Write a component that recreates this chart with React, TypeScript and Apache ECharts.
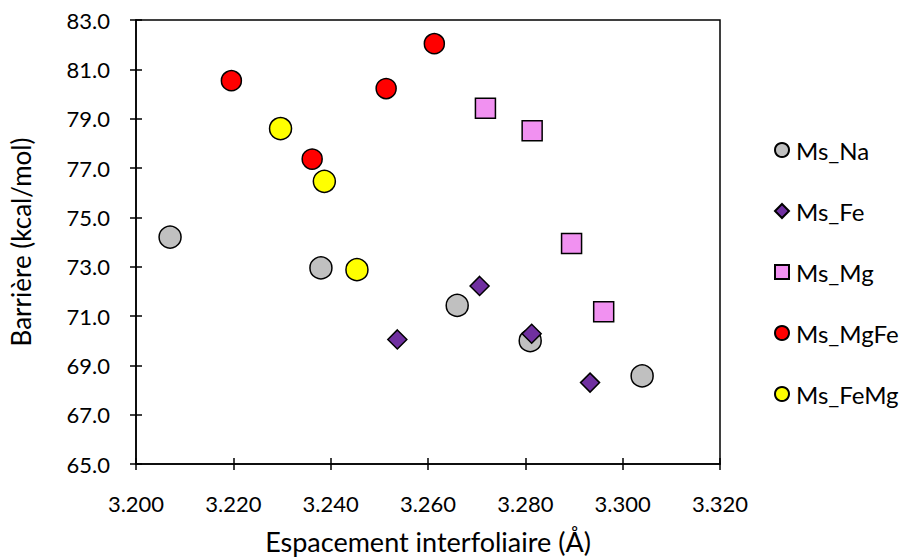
import React, { useEffect, useRef } from "react";
import * as echarts from "echarts";

const seriesNames = ["Ms_Na", "Ms_Fe", "Ms_Mg", "Ms_MgFe", "Ms_FeMg"];
const naX = [3.207, 3.238, 3.266, 3.281, 3.304];
const naY = [74.2, 72.95, 71.43, 70.0, 68.57];
const feX = [3.2537, 3.2706, 3.2813, 3.2933];
const feY = [70.05, 72.22, 70.28, 68.3];
const mgX = [3.2718, 3.2814, 3.2895, 3.2961];
const mgY = [79.42, 78.51, 73.94, 71.17];
const mgfeX = [3.2196, 3.2362, 3.2514, 3.2613];
const mgfeY = [80.54, 77.36, 80.22, 82.04];
const femgX = [3.2297, 3.2387, 3.2454];
const femgY = [78.6, 76.46, 72.88];

const xMin = 3.2, xMax = 3.32, xStep = 0.02;
const yMin = 65, yMax = 83, yStep = 2;

const FONT = "Lato";

function pairs(xs: number[], ys: number[]) {
  return xs.map((x, i) => [x, ys[i]]);
}

export default function App() {
  const ref = useRef<HTMLDivElement>(null);
  useEffect(() => {
    if (!ref.current) return;
    const chart = echarts.init(ref.current, null, { renderer: "svg" });
    const border = { borderColor: "#000", borderWidth: 1.5 };
    const mk = (name: string, xs: number[], ys: number[], symbol: string, size: number, color: string) => ({
      name,
      type: "scatter",
      data: pairs(xs, ys),
      symbol,
      symbolSize: size,
      itemStyle: { color, ...border, opacity: 1 },
      emphasis: { disabled: true },
    });
    const baseX = {
      type: "value",
      min: xMin,
      max: xMax,
      interval: xStep,
      position: "bottom",
      splitLine: { show: false },
    };
    const baseY = {
      type: "value",
      min: yMin,
      max: yMax,
      interval: yStep,
      position: "left",
      splitLine: { show: false },
    };
    chart.setOption({
      animation: false,
      grid: {
        left: 129.5,
        right: 184,
        top: 20,
        bottom: 89,
        show: true,
        borderColor: "#000",
        borderWidth: 1.5,
      },
      legend: {
        orient: "vertical",
        left: 769,
        top: 133,
        itemWidth: 14,
        itemHeight: 14,
        itemGap: 37,
        data: seriesNames,
        textStyle: { fontFamily: FONT, fontSize: 24, color: "#000", lineHeight: 24, padding: [0, 0, 0, 2] },
      },
      xAxis: [
        {
          ...baseX,
          name: "Espacement interfoliaire (Å)",
          nameLocation: "middle",
          nameGap: 64,
          nameTextStyle: { fontFamily: FONT, fontSize: 27, color: "#000" },
          axisLine: { show: true, onZero: false, lineStyle: { color: "#000", width: 1.5 } },
          axisTick: { show: true, inside: false, length: 6, lineStyle: { color: "#000", width: 1.5 } },
          axisLabel: {
            fontFamily: FONT,
            fontSize: 22,
            color: "#000",
            margin: 28,
            formatter: (v: number) => v.toFixed(3),
          },
        },
        {
          ...baseX,
          offset: 0,
          axisLine: { show: false },
          axisTick: { show: true, inside: true, length: 6, lineStyle: { color: "#000", width: 1.5 } },
          axisLabel: { show: false },
        },
      ],
      yAxis: [
        {
          ...baseY,
          name: "Barrière (kcal/mol)",
          nameLocation: "middle",
          nameGap: 102,
          nameTextStyle: { fontFamily: FONT, fontSize: 26, color: "#000" },
          axisLine: { show: true, onZero: false, lineStyle: { color: "#000", width: 1.5 } },
          axisTick: { show: true, inside: false, length: 6, lineStyle: { color: "#000", width: 1.5 } },
          axisLabel: {
            fontFamily: FONT,
            fontSize: 22,
            color: "#000",
            margin: 26,
            formatter: (v: number) => v.toFixed(1),
          },
        },
        {
          ...baseY,
          offset: 0,
          axisLine: { show: false },
          axisTick: { show: true, inside: true, length: 6, lineStyle: { color: "#000", width: 1.5 } },
          axisLabel: { show: false },
        },
      ],
      series: [
        mk("Ms_Na", naX, naY, "circle", 22, "#C0C0C0"),
        mk("Ms_Fe", feX, feY, "diamond", 19, "#7030A0"),
        mk("Ms_Mg", mgX, mgY, "rect", 20, "#F191F1"),
        mk("Ms_MgFe", mgfeX, mgfeY, "circle", 20, "#FF0000"),
        mk("Ms_FeMg", femgX, femgY, "circle", 22, "#FFFF00"),
      ],
    });
    return () => chart.dispose();
  }, []);
  return (
    <div
      ref={ref}
      style={{ position: "fixed", left: 0, top: 0, width: 904, height: 560, background: "#fff" }}
    />
  );
}
